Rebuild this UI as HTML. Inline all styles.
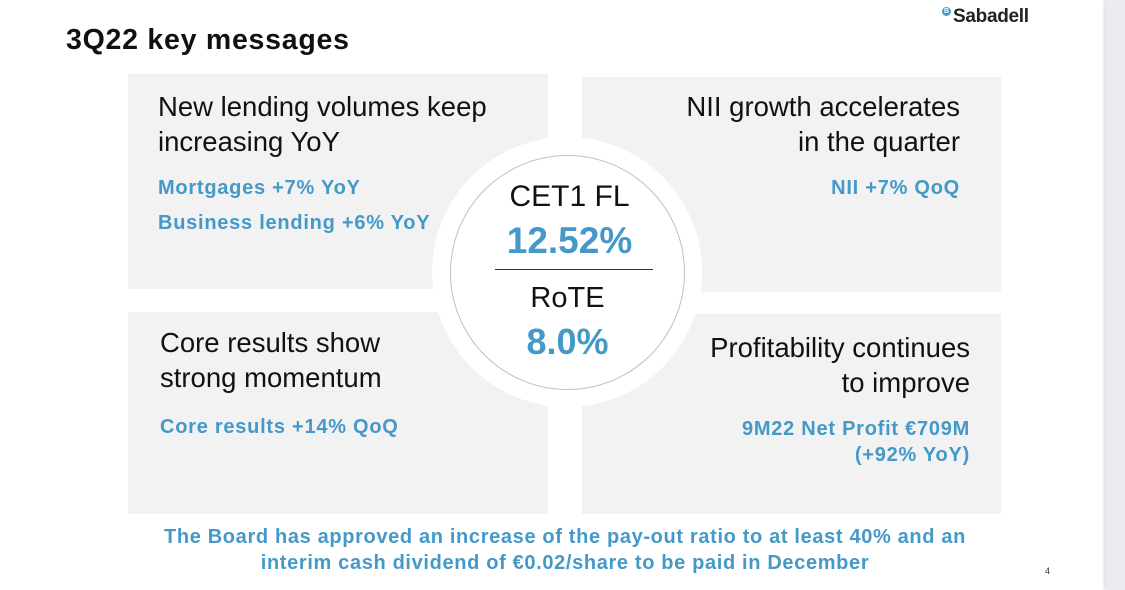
<!DOCTYPE html>
<html><head><meta charset="utf-8"><style>
body{margin:0;width:1125px;height:590px;background:#fff;position:relative;overflow:hidden;font-family:"Liberation Sans",Arial,sans-serif}
.a{position:absolute;white-space:nowrap}
.p{position:absolute;background:#f2f2f2}
.h{font-size:27.5px;color:#111;line-height:35px}
.b{font-size:20px;font-weight:bold;color:#4599c8;letter-spacing:0.75px}
</style></head><body>
<div class="a" style="left:1106px;top:0;width:19px;height:590px;background:#ecebef;box-shadow:-2px 0 3px #ddd"></div>
<div class="a" style="left:66px;top:24px;font-size:28.5px;font-weight:bold;color:#111;letter-spacing:0.75px">3Q22 key messages</div>
<div class="a" style="left:942px;top:7px;width:9px;height:9px;border-radius:50%;background:#4599c8;color:#fff;font-size:7px;line-height:9px;text-align:center;font-weight:bold">B</div>
<div class="a" style="left:953px;top:6px;font-size:19px;font-weight:bold;color:#222;letter-spacing:-0.3px">Sabadell</div>
<div class="p" style="left:128px;top:74px;width:420px;height:215px"></div>
<div class="p" style="left:582px;top:77px;width:419px;height:215px"></div>
<div class="p" style="left:128px;top:312px;width:420px;height:202px"></div>
<div class="p" style="left:582px;top:314px;width:419px;height:200px"></div>
<div class="a" style="left:432px;top:137px;width:270px;height:270px;border-radius:50%;background:#fff"></div>
<div class="a" style="left:450px;top:155px;width:233px;height:233px;border-radius:50%;border:1px solid #c0c0c0;background:#fff"></div>
<div class="a" style="left:495px;top:269px;width:158px;height:1px;background:#333"></div>
<div class="a" style="left:452px;width:235px;text-align:center;top:180px;font-size:30px;color:#111">CET1 FL</div>
<div class="a" style="left:452px;width:235px;text-align:center;top:220px;font-size:37px;font-weight:bold;color:#4599c8">12.52%</div>
<div class="a" style="left:450px;width:235px;text-align:center;top:282px;font-size:29px;color:#111">RoTE</div>
<div class="a" style="left:450px;width:235px;text-align:center;top:321px;font-size:36px;font-weight:bold;color:#4599c8">8.0%</div>
<div class="a h" style="left:158px;top:89px">New lending volumes keep<br>increasing YoY</div>
<div class="a b" style="left:158px;top:177px">Mortgages +7% YoY</div>
<div class="a b" style="left:158px;top:212px">Business lending +6% YoY</div>
<div class="a h" style="right:165px;top:89px;text-align:right">NII growth accelerates<br>in the quarter</div>
<div class="a b" style="right:165px;top:177px">NII +7% QoQ</div>
<div class="a h" style="left:160px;top:325px">Core results show<br>strong momentum</div>
<div class="a b" style="left:160px;top:416px">Core results +14% QoQ</div>
<div class="a h" style="right:155px;top:330px;text-align:right">Profitability continues<br>to improve</div>
<div class="a b" style="right:155px;top:416px;text-align:right;line-height:26px">9M22 Net Profit €709M<br>(+92% YoY)</div>
<div class="a" style="left:120px;width:890px;top:524px;text-align:center;font-size:20px;font-weight:bold;color:#4599c8;line-height:26px;letter-spacing:0.65px">The Board has approved an increase of the pay-out ratio to at least 40% and an<br>interim cash dividend of €0.02/share to be paid in December</div>
<div class="a" style="left:1045px;top:566px;font-size:9px;color:#333">4</div>
</body></html>
